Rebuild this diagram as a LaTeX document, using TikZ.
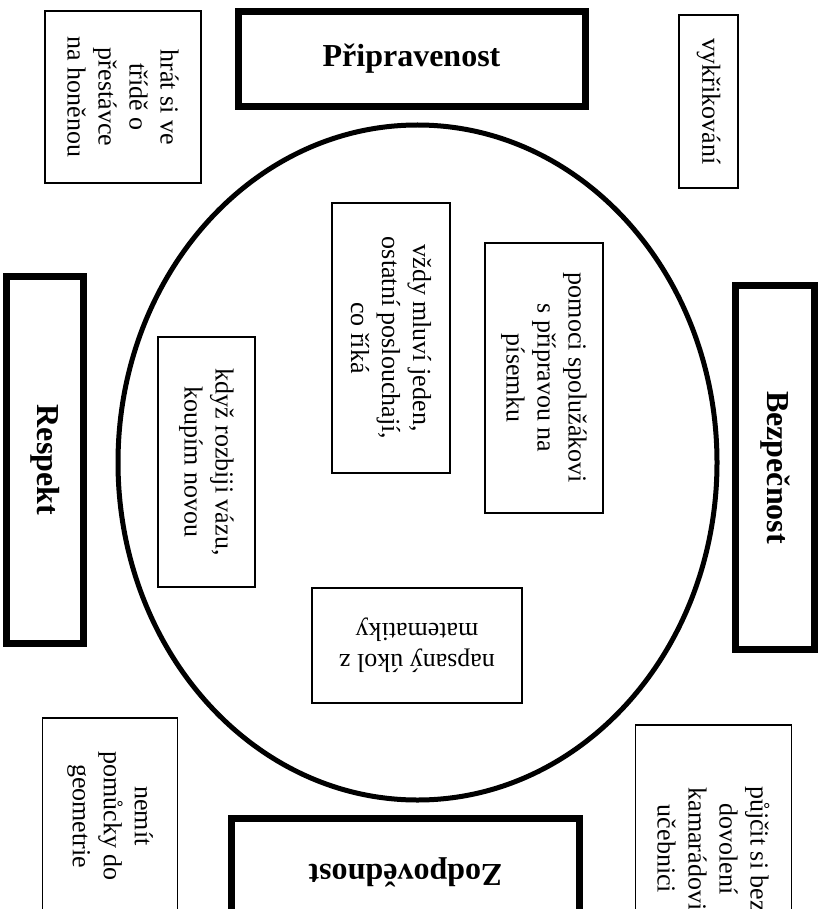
\documentclass[tikz,border=0pt]{standalone}
\usepackage{fontspec}
\setmainfont{Liberation Serif}
\begin{document}
\begin{tikzpicture}[x=1pt, y=-1pt,
    head/.style = {draw, line width=7pt, inner sep=0pt, font=\bfseries\fontsize{32}{38}\selectfont},
    note/.style = {draw, line width=1.5pt, inner sep=0pt, align=center, font=\fontsize{26}{31}\selectfont}]
    \useasboundingbox (0,0) rectangle (826,909);
    \draw[line width=5pt] (417.5,462.5) ellipse [x radius=299.5, y radius=337.5];
    \node[head, minimum width=347pt, minimum height=95pt] (pripravenost) at (411.5,59) {Připravenost};
    \node[head, rotate=-90, minimum width=367pt, minimum height=77pt] (respekt) at (45,460) {Respekt};
    \node[head, rotate=-90, minimum width=364pt, minimum height=79pt] (bezpecnost) at (775,467.5) {Bezpečnost};
    \node[head, rotate=180, minimum width=348pt, minimum height=107pt] (zodpovednost) at (405.5,872) {Zodpovědnost};
    \node[note, rotate=-90, minimum width=172pt, minimum height=156pt] (hrat) at (123,97)
        {hrát si ve\\třídě o\\přestávce\\na honěnou};
    \node[note, rotate=-90, minimum width=173pt, minimum height=59pt] (vykrikovani) at (708.5,101.5) {vykřikování};
    \node[note, rotate=-90, minimum width=270pt, minimum height=118pt] (mluvi) at (391,338)
        {vždy mluví jeden,\\ostatní poslouchají,\\co říká};
    \node[note, rotate=-90, minimum width=270pt, minimum height=118pt] (pomoci) at (544,378)
        {pomoci spolužákovi\\s přípravou na\\písemku};
    \node[note, rotate=-90, minimum width=250pt, minimum height=97pt] (vaza) at (206.5,462)
        {když rozbiji vázu,\\koupím novou};
    \node[note, rotate=180, minimum width=210pt, minimum height=115pt] (ukol) at (417,645.5)
        {napsaný úkol z\\matematiky};
    \node[note, rotate=-90, minimum width=196pt, minimum height=135pt] (pomucky) at (110,816)
        {nemít\\pomůcky do\\geometrie};
    \node[note, rotate=-90, minimum width=248pt, minimum height=156pt] (ucebnice) at (713.5,849)
        {půjčit si bez\\dovolení\\kamarádovi\\učebnici};
\end{tikzpicture}
\end{document}
